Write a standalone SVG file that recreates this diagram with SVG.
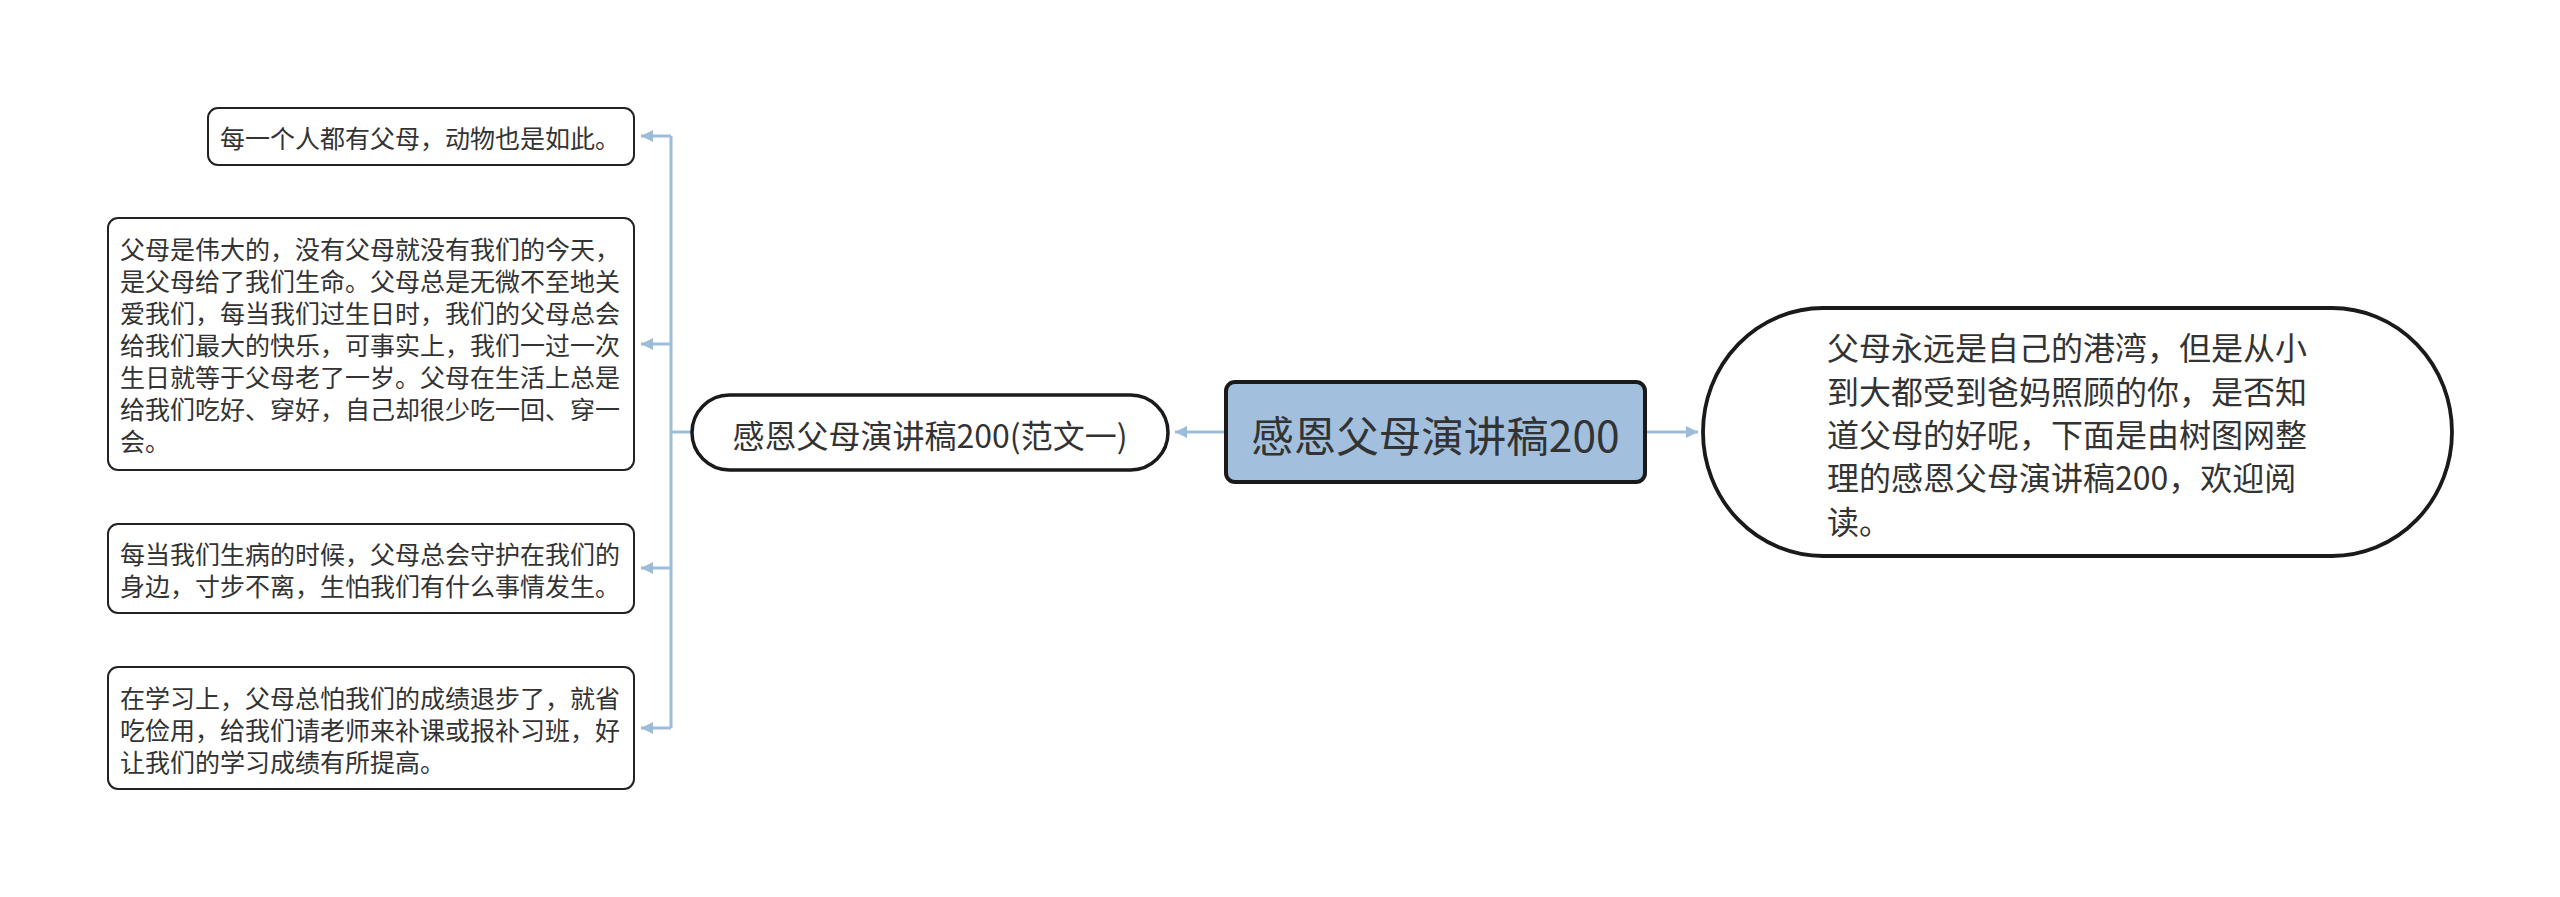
<svg xmlns="http://www.w3.org/2000/svg" width="2560" height="897" viewBox="0 0 2560 897">
<style>
text{font-family:"Noto Sans CJK SC","Noto Sans",sans-serif;fill:#333333;dominant-baseline:central}
.leaf{fill:#ffffff;stroke:#222222;stroke-width:2}
.t25{font-size:25px}
.t32{font-size:32px}
.conn{fill:none;stroke:#9dbcd9;stroke-width:3}
</style>
<defs>
<marker id="arr" viewBox="0 0 10 10" refX="10" refY="5" markerWidth="4" markerHeight="4" orient="auto" markerUnits="strokeWidth">
<path d="M0,0 L10,5 L0,10 Z" fill="#9dbcd9"/>
</marker>
</defs>
<rect width="2560" height="897" fill="#ffffff"/>
<g id="connectors">
<path class="conn" d="M1646,432 L1698,432" marker-end="url(#arr)"/>
<path class="conn" d="M1225,432 L1175,432" marker-end="url(#arr)"/>
<path class="conn" d="M691,432 L671,432"/>
<path class="conn" d="M671,136 L671,728"/>
<path class="conn" d="M671,136 L641,136" marker-end="url(#arr)"/>
<path class="conn" d="M671,344 L641,344" marker-end="url(#arr)"/>
<path class="conn" d="M671,568 L641,568" marker-end="url(#arr)"/>
<path class="conn" d="M671,728 L641,728" marker-end="url(#arr)"/>
</g>
<g id="root">
<rect x="1226" y="382" width="419" height="100" rx="9" fill="#a2c0dd" stroke="#1a1a1a" stroke-width="4"/>
<text x="1435.5" y="433" font-size="42.5px" text-anchor="middle">感恩父母演讲稿200</text>
</g>
<g id="intro">
<rect x="1703" y="308" width="749" height="248" rx="120" ry="124" fill="#ffffff" stroke="#1a1a1a" stroke-width="3.8"/>
<text class="t32" x="1827" y="346">父母永远是自己的港湾，但是从小</text>
<text class="t32" x="1827" y="389.5">到大都受到爸妈照顾的你，是否知</text>
<text class="t32" x="1827" y="433">道父母的好呢，下面是由树图网整</text>
<text class="t32" x="1827" y="476">理的感恩父母演讲稿200，欢迎阅</text>
<text class="t32" x="1827" y="519.5">读。</text>
</g>
<g id="branch">
<rect x="692" y="395" width="476" height="75" rx="37.5" fill="#ffffff" stroke="#1a1a1a" stroke-width="3.5"/>
<text class="t32" x="930" y="434" text-anchor="middle">感恩父母演讲稿200(范文一)</text>
</g>
<g id="leaf1">
<rect class="leaf" x="208" y="108" width="426" height="57" rx="10"/>
<text class="t25" x="220" y="137">每一个人都有父母，动物也是如此。</text>
</g>
<g id="leaf2">
<rect class="leaf" x="108" y="218" width="526" height="252" rx="10"/>
<text class="t25" x="120" y="248">父母是伟大的，没有父母就没有我们的今天，</text>
<text class="t25" x="120" y="280">是父母给了我们生命。父母总是无微不至地关</text>
<text class="t25" x="120" y="312">爱我们，每当我们过生日时，我们的父母总会</text>
<text class="t25" x="120" y="344">给我们最大的快乐，可事实上，我们一过一次</text>
<text class="t25" x="120" y="376">生日就等于父母老了一岁。父母在生活上总是</text>
<text class="t25" x="120" y="408">给我们吃好、穿好，自己却很少吃一回、穿一</text>
<text class="t25" x="120" y="440">会。</text>
</g>
<g id="leaf3">
<rect class="leaf" x="108" y="524" width="526" height="89" rx="10"/>
<text class="t25" x="120" y="553">每当我们生病的时候，父母总会守护在我们的</text>
<text class="t25" x="120" y="585">身边，寸步不离，生怕我们有什么事情发生。</text>
</g>
<g id="leaf4">
<rect class="leaf" x="108" y="667" width="526" height="122" rx="10"/>
<text class="t25" x="120" y="697">在学习上，父母总怕我们的成绩退步了，就省</text>
<text class="t25" x="120" y="729">吃俭用，给我们请老师来补课或报补习班，好</text>
<text class="t25" x="120" y="761">让我们的学习成绩有所提高。</text>
</g>
</svg>
